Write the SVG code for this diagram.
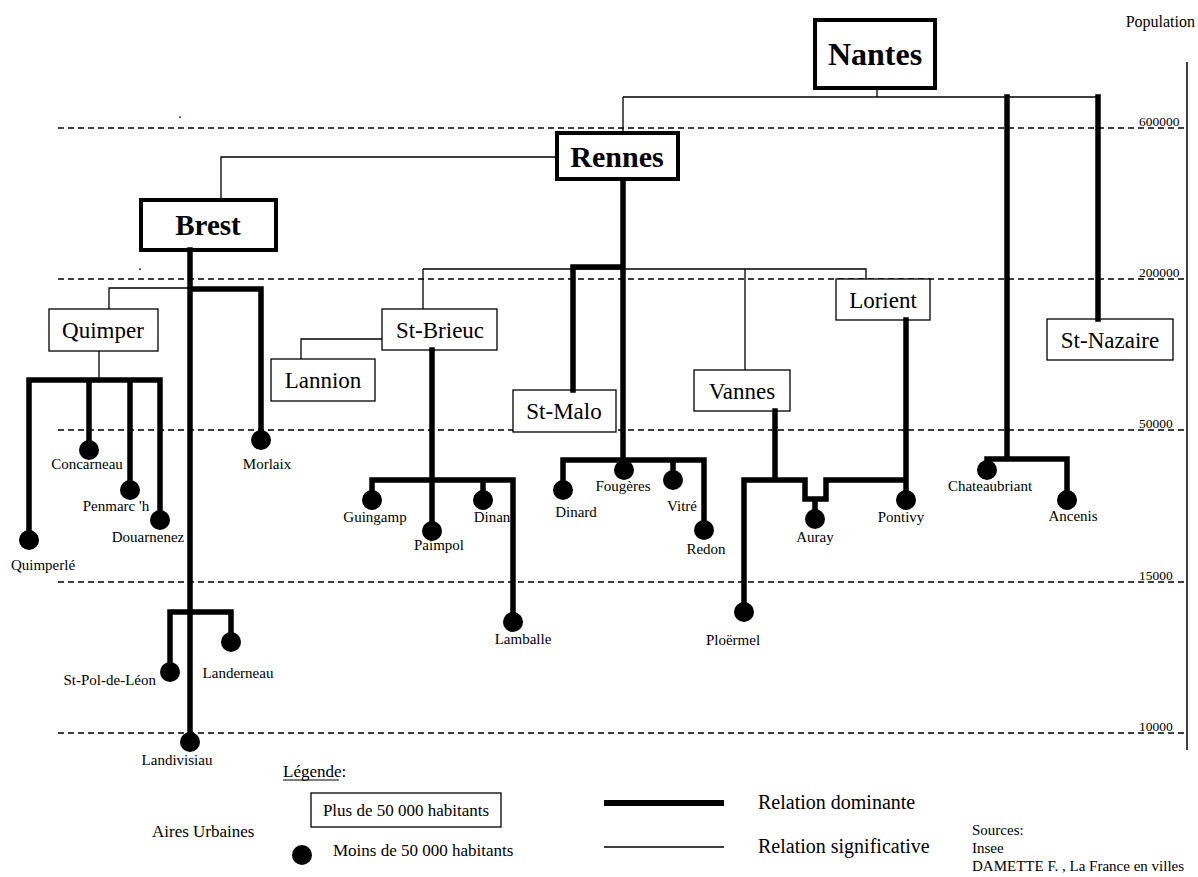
<svg xmlns="http://www.w3.org/2000/svg" width="1198" height="877" viewBox="0 0 1198 877">
<style>
text{font-family:"Liberation Serif","Times New Roman",serif;fill:#000}
.grid{stroke:#000;stroke-width:1.3;stroke-dasharray:6 4;fill:none}
.ax{font-size:13.5px}
.big{fill:#fff;stroke:#000;stroke-width:4}
.box{fill:#fff;stroke:#000;stroke-width:1.3}
.bt{font-weight:bold;text-anchor:middle}
.mt{font-size:23px;text-anchor:middle}
.lb{font-size:15px;text-anchor:middle}
.lbe{font-size:15px;text-anchor:end}
.thin{stroke:#000;stroke-width:1.3;fill:none}
.thick{stroke:#000;stroke-width:5.5;fill:none;stroke-linecap:square}
.leg{font-size:17px}
</style>
<defs><circle id="dot" r="10" fill="#000"/></defs>
<rect width="1198" height="877" fill="#fff"/>
<g id="grid">
<line class="grid" x1="58" y1="128" x2="1185" y2="128"/>
<line class="grid" x1="58" y1="279" x2="1185" y2="279"/>
<line class="grid" x1="58" y1="430" x2="1185" y2="430"/>
<line class="grid" x1="58" y1="582" x2="1185" y2="582"/>
<line class="grid" x1="58" y1="733" x2="1185" y2="733"/>
<line x1="1187" y1="62" x2="1187" y2="750" stroke="#000" stroke-width="1.5"/>
<text x="1195" y="27" font-size="16" text-anchor="end">Population</text>
<text class="ax" x="1139" y="126">600000</text>
<text class="ax" x="1139" y="277">200000</text>
<text class="ax" x="1139" y="428">50000</text>
<text class="ax" x="1139" y="580">15000</text>
<text class="ax" x="1139" y="731">10000</text>
<text x="178" y="118" font-size="15">.</text>
<text x="138" y="270" font-size="15">.</text>
</g>
<g id="Nantes"><rect class="big" x="815" y="20" width="120" height="68"/><text class="bt" x="875" y="65" font-size="32">Nantes</text></g>
<g id="Rennes"><rect class="big" x="557" y="133" width="121" height="46"/><text class="bt" x="617" y="167" font-size="30">Rennes</text></g>
<g id="Brest"><rect class="big" x="141" y="200" width="135" height="50"/><text class="bt" x="208" y="235" font-size="29">Brest</text></g>
<g id="Quimper"><rect class="box" x="49" y="309" width="109" height="42"/><text class="mt" x="103" y="338" font-size="24">Quimper</text></g>
<g id="Lannion"><rect class="box" x="271" y="359" width="104" height="42"/><text class="mt" x="323" y="388">Lannion</text></g>
<g id="StBrieuc"><rect class="box" x="382" y="309" width="115" height="41"/><text class="mt" x="440" y="338">St-Brieuc</text></g>
<g id="StMalo"><rect class="box" x="513" y="390" width="103" height="42"/><text class="mt" x="564" y="419">St-Malo</text></g>
<g id="Vannes"><rect class="box" x="694" y="370" width="96" height="41"/><text class="mt" x="742" y="399">Vannes</text></g>
<g id="Lorient"><rect class="box" x="836" y="279" width="94" height="41"/><text class="mt" x="883" y="308">Lorient</text></g>
<g id="StNazaire"><rect class="box" x="1047" y="319" width="126" height="41"/><text class="mt" x="1110" y="348">St-Nazaire</text></g>
<g id="Concarneau"><use href="#dot" x="89" y="450"/><text class="lb" x="87" y="469">Concarneau</text></g>
<g id="Penmarch"><use href="#dot" x="130" y="490"/><text class="lb" x="116" y="511">Penmarc 'h</text></g>
<g id="Douarnenez"><use href="#dot" x="160" y="520"/><text class="lb" x="148" y="542">Douarnenez</text></g>
<g id="Quimperle"><use href="#dot" x="29" y="540"/><text class="lb" x="43" y="570">Quimperlé</text></g>
<g id="Morlaix"><use href="#dot" x="261" y="440"/><text class="lb" x="267" y="469">Morlaix</text></g>
<g id="StPol"><use href="#dot" x="170" y="672"/><text class="lbe" x="156" y="685">St-Pol-de-Léon</text></g>
<g id="Landerneau"><use href="#dot" x="231" y="642"/><text class="lb" x="238" y="678">Landerneau</text></g>
<g id="Landivisiau"><use href="#dot" x="190" y="742"/><text class="lb" x="177" y="765">Landivisiau</text></g>
<g id="Guingamp"><use href="#dot" x="372" y="500"/><text class="lb" x="375" y="522">Guingamp</text></g>
<g id="Paimpol"><use href="#dot" x="432" y="531"/><text class="lb" x="439" y="550">Paimpol</text></g>
<g id="Dinan"><use href="#dot" x="483" y="500"/><text class="lb" x="492" y="522">Dinan</text></g>
<g id="Lamballe"><use href="#dot" x="513" y="622"/><text class="lb" x="523" y="644">Lamballe</text></g>
<g id="Dinard"><use href="#dot" x="563" y="490"/><text class="lb" x="576" y="517">Dinard</text></g>
<g id="Fougeres"><use href="#dot" x="624" y="470"/><text class="lb" x="623" y="491">Fougères</text></g>
<g id="Vitre"><use href="#dot" x="673" y="480"/><text class="lb" x="682" y="511">Vitré</text></g>
<g id="Redon"><use href="#dot" x="704" y="530"/><text class="lb" x="706" y="554">Redon</text></g>
<g id="Auray"><use href="#dot" x="815" y="519"/><text class="lb" x="815" y="542">Auray</text></g>
<g id="Pontivy"><use href="#dot" x="906" y="500"/><text class="lb" x="901" y="522">Pontivy</text></g>
<g id="Ploermel"><use href="#dot" x="744" y="612"/><text class="lb" x="733" y="645">Ploërmel</text></g>
<g id="Chateaubriant"><use href="#dot" x="987" y="470"/><text class="lb" x="990" y="491">Chateaubriant</text></g>
<g id="Ancenis"><use href="#dot" x="1067" y="500"/><text class="lb" x="1073" y="521">Ancenis</text></g>
<g id="connectors">
<path class="thin" d="M877 88V97M623 97H1098M623 97V133"/>
<path class="thin" d="M557 157H221V200"/>
<path class="thin" d="M190 288H109V309M99 351V380"/>
<path class="thin" d="M423 269H866V279M423 269V309M745 269V370"/>
<path class="thin" d="M382 339H301V359"/>
<path class="thick" d="M1007 97V459M987 459H1067V500M1098 97V319"/>
<path class="thick" d="M623 180V460M623 267H573V390M563 490V460H704V530M673 460V480"/>
<path class="thick" d="M190 250V742M190 289H261V440M29 540V380H160V520M89 380V450M130 380V490M170 672V612H231V642"/>
<path class="thick" d="M432 350V531M372 500V480H513V622M483 480V500"/>
<path class="thick" d="M775 411V480M744 612V480H805V499H826V480H906M906 320V500M815 499V519"/>
</g>
<g id="legend">
<text class="leg" x="283" y="777">Légende:</text>
<line x1="283" y1="780" x2="339" y2="780" stroke="#000" stroke-width="1"/>
<rect class="box" x="311" y="793" width="190" height="34"/>
<text class="leg" x="406" y="816" text-anchor="middle">Plus de 50 000 habitants</text>
<text class="leg" x="152" y="837">Aires Urbaines</text>
<use href="#dot" x="302" y="855"/>
<text class="leg" x="333" y="856">Moins de 50 000 habitants</text>
<line x1="604" y1="803" x2="724" y2="803" stroke="#000" stroke-width="6"/>
<line x1="604" y1="847" x2="724" y2="847" stroke="#000" stroke-width="1.3"/>
<text x="758" y="809" font-size="20">Relation dominante</text>
<text x="758" y="853" font-size="20">Relation significative</text>
<text x="972" y="835" font-size="15">Sources:</text>
<text x="972" y="853" font-size="15">Insee</text>
<text x="972" y="871" font-size="15">DAMETTE F. , La France en villes</text>
</g>
</svg>
